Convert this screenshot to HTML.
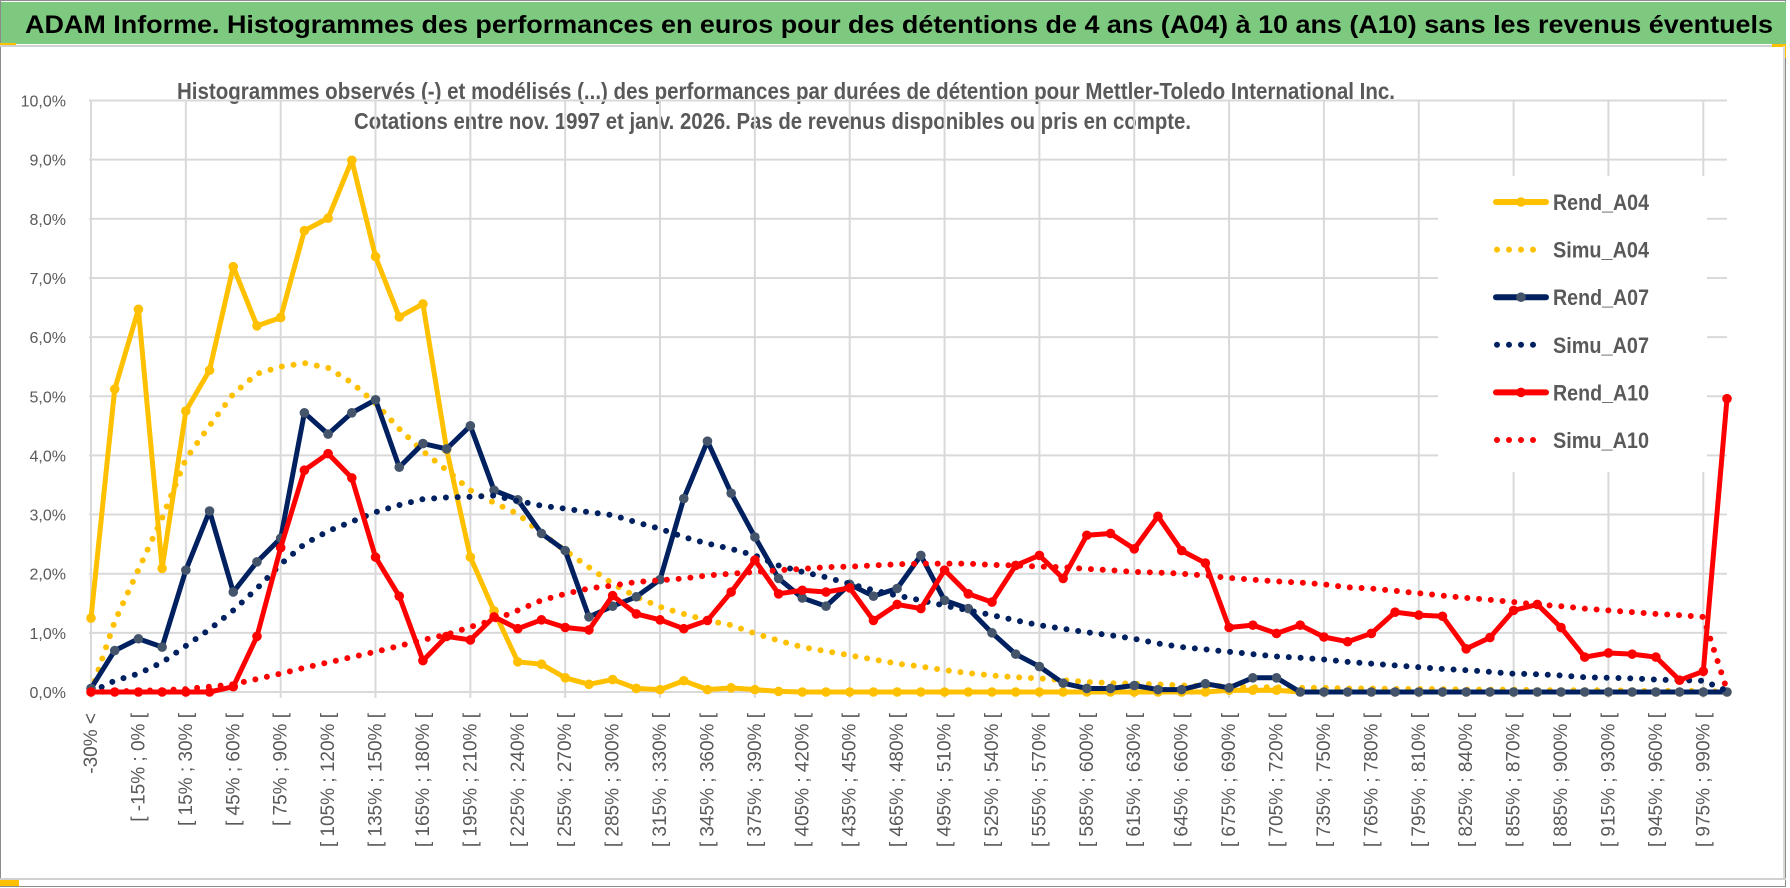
<!DOCTYPE html>
<html><head><meta charset="utf-8">
<style>
html,body{margin:0;padding:0;background:#fff;}
svg{display:block;font-family:"Liberation Sans",sans-serif;}
</style></head>
<body>
<svg id="chart" width="1790" height="888" viewBox="0 0 1790 888" xmlns="http://www.w3.org/2000/svg">
  <rect x="0" y="0" width="1790" height="888" fill="#fff"/>
  <rect x="0.5" y="0.5" width="1785" height="886" fill="none" stroke="#8c8c8c" stroke-width="1"/>
  <rect x="1" y="2" width="1785" height="42" fill="#7dc97f"/>
  <rect x="0" y="43" width="16" height="3" fill="#ffc000"/>
  <line x1="0" y1="46" x2="1786" y2="46" stroke="#d0d0d0" stroke-width="2"/>
  <rect x="1772" y="44" width="14" height="3" fill="#ffc000"/>
  <rect x="1783" y="44" width="3" height="14" fill="#ffc000"/>
  <line x1="1784" y1="46" x2="1784" y2="880" stroke="#d9d9d9" stroke-width="2"/>
  <line x1="0" y1="879" x2="1786" y2="879" stroke="#d0d0d0" stroke-width="2"/>
  <rect x="0" y="880" width="19" height="6" fill="#ffc000"/>
  <text x="25" y="33" font-size="25" font-weight="bold" fill="#000" textLength="1748" lengthAdjust="spacingAndGlyphs">ADAM Informe. Histogrammes des performances en euros pour des détentions de 4 ans (A04) à 10 ans (A10) sans les revenus éventuels</text>
  <text x="177" y="99" font-size="23" font-weight="bold" fill="#595959" textLength="1218" lengthAdjust="spacingAndGlyphs">Histogrammes observés (-) et modélisés (...) des performances par durées de détention pour Mettler-Toledo International Inc.</text>
  <text x="354" y="129" font-size="23" font-weight="bold" fill="#595959" textLength="837" lengthAdjust="spacingAndGlyphs">Cotations entre nov. 1997 et janv. 2026. Pas de revenus disponibles ou pris en compte.</text>
  <g id="grid"></g>
  <g id="xlabels"></g>
  <g id="ylabels"></g>
  <g id="series"></g>
  <g id="legend"></g>
</svg>
<script>
const categories = ["-30% <","[ -30% ; -15% [","[ -15% ; 0% [","[ 0% ; 15% [","[ 15% ; 30% [","[ 30% ; 45% [","[ 45% ; 60% [","[ 60% ; 75% [","[ 75% ; 90% [","[ 90% ; 105% [",
"[ 105% ; 120% [","[ 120% ; 135% [","[ 135% ; 150% [","[ 150% ; 165% [","[ 165% ; 180% [","[ 180% ; 195% [","[ 195% ; 210% [","[ 210% ; 225% [","[ 225% ; 240% [","[ 240% ; 255% [",
"[ 255% ; 270% [","[ 270% ; 285% [","[ 285% ; 300% [","[ 300% ; 315% [","[ 315% ; 330% [","[ 330% ; 345% [","[ 345% ; 360% [","[ 360% ; 375% [","[ 375% ; 390% [","[ 390% ; 405% [",
"[ 405% ; 420% [","[ 420% ; 435% [","[ 435% ; 450% [","[ 450% ; 465% [","[ 465% ; 480% [","[ 480% ; 495% [","[ 495% ; 510% [","[ 510% ; 525% [","[ 525% ; 540% [","[ 540% ; 555% [",
"[ 555% ; 570% [","[ 570% ; 585% [","[ 585% ; 600% [","[ 600% ; 615% [","[ 615% ; 630% [","[ 630% ; 645% [","[ 645% ; 660% [","[ 660% ; 675% [","[ 675% ; 690% [","[ 690% ; 705% [",
"[ 705% ; 720% [","[ 720% ; 735% [","[ 735% ; 750% [","[ 750% ; 765% [","[ 765% ; 780% [","[ 780% ; 795% [","[ 795% ; 810% [","[ 810% ; 825% [","[ 825% ; 840% [","[ 840% ; 855% [",
"[ 855% ; 870% [","[ 870% ; 885% [","[ 885% ; 900% [","[ 900% ; 915% [","[ 915% ; 930% [","[ 930% ; 945% [","[ 945% ; 960% [","[ 960% ; 975% [","[ 975% ; 990% [","990% >"];
const yTicks = [0,1,2,3,4,5,6,7,8,9,10];
const yTickLabels = ["0,0%","1,0%","2,0%","3,0%","4,0%","5,0%","6,0%","7,0%","8,0%","9,0%","10,0%"];
const rendA04 = [1.25,5.12,6.47,2.09,4.75,5.44,7.19,6.19,6.33,7.8,8.01,8.99,7.36,6.34,6.56,4.1,2.28,1.37,
0.51,0.47,0.24,0.13,0.21,0.06,0.04,0.19,0.04,0.07,0.04,0.01,
0,0,0,0,0,0,0,0,0,0, 0,0,0,0,0,0,0,0,0.03,0.03, 0.03,0,0,0,0,0,0,0,0,0, 0,0,0,0,0,0,0,0,0,0];
const simuA04 = [0,1.19,2.07,2.94,3.94,4.5,5.04,5.38,5.5,5.56,5.48,5.23,4.88,4.45,4.07,3.75,3.41,3.2,
3.01,2.68,2.39,2.11,1.83,1.61,1.44,1.32,1.21,1.13,0.99,0.87,0.76,0.69,0.62,0.55,0.48,
0.43,0.37,0.32,0.28,0.25,0.23,0.2,0.17,0.15,0.14,0.13,0.11,0.1,0.1,0.08,0.08,0.07,
0.07,0.06,0.06,0.05,0.05,0.05,0.04,0.04,0.04,0.03,0.03,0.03,0.03,0.02,0.02,0.02,0.02,0];
const rendA07 = [0.06,0.7,0.9,0.76,2.06,3.06,1.69,2.2,2.6,4.72,4.36,4.72,4.94,3.8,4.2,4.11,4.5,3.41,
3.25,2.68,2.39,1.27,1.45,1.61,1.9,3.27,4.24,3.36,2.62,1.92,1.59,1.45,1.82,1.62,1.75,
2.31,1.55,1.41,1.0,0.64,0.43,0.15,0.06,0.06,0.11,0.04,0.04,0.14,0.07,0.24,0.24,0,
0,0,0,0,0,0,0,0,0,0,0,0,0,0,0,0,0,0];
const simuA07 = [0,0.19,0.31,0.5,0.78,1.06,1.38,1.75,2.16,2.5,2.72,2.88,3.04,3.16,3.26,3.29,3.3,3.32,
3.23,3.15,3.1,3.04,2.99,2.87,2.76,2.62,2.51,2.42,2.31,2.14,2.03,1.94,1.83,1.72,1.63,
1.55,1.46,1.38,1.3,1.21,1.13,1.07,1.01,0.96,0.9,0.82,0.76,0.72,0.68,0.64,0.6,0.58,
0.55,0.51,0.48,0.45,0.42,0.39,0.37,0.34,0.31,0.3,0.28,0.25,0.24,0.23,0.21,0.2,0.19,0.02];
const rendA10 = [0,0,0,0,0,0,0.09,0.94,2.44,3.75,4.03,3.62,2.28,1.62,0.53,0.94,0.88,1.27,
1.07,1.22,1.09,1.05,1.63,1.32,1.22,1.07,1.21,1.69,2.23,1.66,1.72,1.69,1.76,1.21,1.48,
1.41,2.06,1.66,1.52,2.14,2.31,1.92,2.65,2.68,2.42,2.97,2.39,2.18,1.09,1.13,0.99,1.13,
0.93,0.85,0.99,1.35,1.3,1.28,0.73,0.92,1.38,1.48,1.09,0.59,0.66,0.64,0.59,0.2,0.35,4.96];
const simuA10 = [0,0.01,0.02,0.03,0.05,0.09,0.13,0.22,0.31,0.41,0.5,0.59,0.68,0.78,0.88,0.97,1.1,1.22,
1.38,1.55,1.66,1.75,1.8,1.86,1.89,1.92,1.97,2.0,2.03,2.06,2.08,2.11,2.12,2.14,2.16,
2.17,2.17,2.17,2.15,2.14,2.12,2.11,2.08,2.06,2.03,2.02,2.0,1.97,1.93,1.9,1.87,1.85,
1.82,1.77,1.75,1.71,1.67,1.63,1.59,1.56,1.52,1.48,1.45,1.41,1.38,1.35,1.32,1.3,1.27,0.03];
const seriesNames = ["Rend_A04","Simu_A04","Rend_A07","Simu_A07","Rend_A10","Simu_A10"];

const NS = "http://www.w3.org/2000/svg";
const X0 = 91, X1 = 1727, Y0 = 692, Y10 = 100.5;
function xs(i){ return X0 + i * (X1 - X0) / (categories.length - 1); }
function ys(v){ return Y0 - v * (Y0 - Y10) / 10; }
function mk(tag, attrs, parent){ const e = document.createElementNS(NS, tag); for (const k in attrs) e.setAttribute(k, attrs[k]); parent.appendChild(e); return e; }

const grid = document.getElementById('grid');
yTicks.forEach((t) => {
  const l = mk('line', {x1: X0 - 2, x2: X1, y1: ys(t), y2: ys(t), stroke: '#d9d9d9', 'stroke-width': 2}, grid);
  
  
});
categories.forEach((c, i) => {
  if (i % 4 === 0) {
    const l = mk('line', {x1: xs(i), x2: xs(i), y1: Y10, y2: Y0 + 6, stroke: '#d9d9d9', 'stroke-width': 2}, grid);
    
    
  }
});

const yl = document.getElementById('ylabels');
yTicks.forEach((t, k) => {
  const e = mk('text', {x: 66, y: ys(t) + 6, 'text-anchor': 'end', 'font-size': 16, fill: '#595959'}, yl);
  e.textContent = yTickLabels[k];
  
  
});

const xl = document.getElementById('xlabels');
categories.forEach((c, i) => {
  if (i % 2 !== 0 || i > 68) return;
  const x = xs(i) + 6, y = 713;
  const e = mk('text', {x: x, y: y, 'text-anchor': 'end', 'font-size': 19, fill: '#595959', transform: 'rotate(-90 ' + x + ' ' + y + ')'}, xl);
  e.textContent = c;
  
  
});

const sg = document.getElementById('series');
function solid(vals, color, mcol, name){
  const g = mk('g', {}, sg);
  
  
  const p = mk('polyline', {points: vals.map((v, i) => xs(i) + ',' + ys(v)).join(' '), fill: 'none', stroke: color, 'stroke-width': 5, 'stroke-linejoin': 'round'}, g);
  
  
  vals.forEach((v, i) => {
    const c = mk('circle', {cx: xs(i), cy: ys(v), r: 4.8, fill: mcol}, g);
    
    
  });
}
function dotted(vals, color, name){
  const p = mk('polyline', {points: vals.map((v, i) => xs(i) + ',' + ys(v)).join(' '), fill: 'none', stroke: color, 'stroke-width': 6, 'stroke-linecap': 'round', 'stroke-dasharray': '0 11.8'}, sg);
  
  
}
solid(rendA04, '#ffc000', '#ffc000', 'series-rend-a04');
dotted(simuA04, '#ffc000', 'series-simu-a04');
solid(rendA07, '#002060', '#44546a', 'series-rend-a07');
dotted(simuA07, '#002060', 'series-simu-a07');
solid(rendA10, '#ff0000', '#ff0000', 'series-rend-a10');
dotted(simuA10, '#ff0000', 'series-simu-a10');

const lg = document.getElementById('legend');
const legBg = mk('rect', {x: 1438, y: 176, width: 269, height: 296, fill: '#fff'}, lg);


const legColors = ['#ffc000','#ffc000','#002060','#002060','#ff0000','#ff0000'];
const legMarkers = ['#ffc000','#ffc000','#44546a','#44546a','#ff0000','#ff0000'];
seriesNames.forEach((n, k) => {
  const y = 202 + k * 47.6;
  const g = mk('g', {}, lg);
  
  
  if (k % 2 === 0) {
    mk('line', {x1: 1496, x2: 1546, y1: y, y2: y, stroke: legColors[k], 'stroke-width': 6, 'stroke-linecap': 'round'}, g);
    mk('circle', {cx: 1521, cy: y, r: 4.8, fill: legMarkers[k]}, g);
  } else {
    mk('line', {x1: 1497, x2: 1537, y1: y, y2: y, stroke: legColors[k], 'stroke-width': 6, 'stroke-linecap': 'round', 'stroke-dasharray': '0 12'}, g);
  }
  const t = mk('text', {x: 1553, y: y + 8, 'font-size': 22, 'font-weight': 'bold', fill: '#595959', textLength: 96, lengthAdjust: 'spacingAndGlyphs'}, g);
  t.textContent = n;
});
</script>
</body></html>
